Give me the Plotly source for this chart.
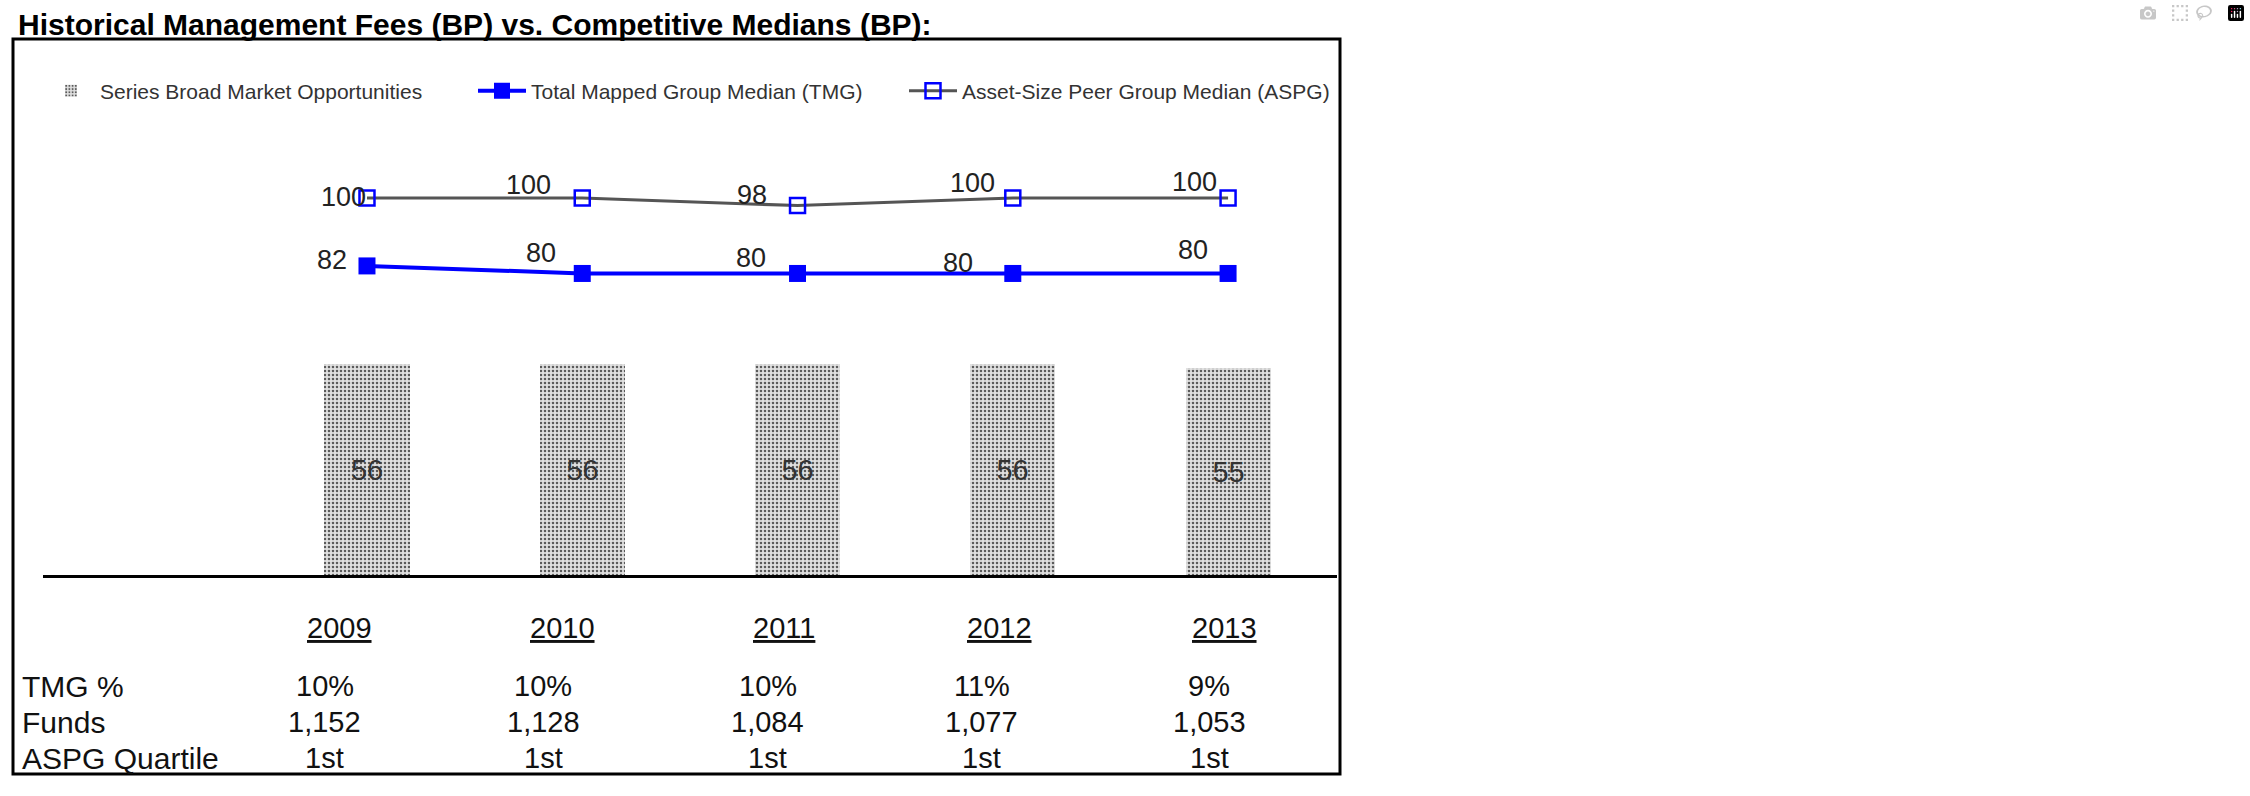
import plotly.graph_objects as go

# ---------------- data ----------------
years = ["2009", "2010", "2011", "2012", "2013"]
broad_market = [56, 56, 56, 56, 55]
tmg_median = [82, 80, 80, 80, 80]
aspg_median = [100, 100, 98, 100, 100]
tmg_pct = ["10%", "10%", "10%", "11%", "9%"]
funds = ["1,152", "1,128", "1,084", "1,077", "1,053"]
aspg_quartile = ["1st", "1st", "1st", "1st", "1st"]
row_labels = ["TMG %", "Funds", "ASPG Quartile"]
series_names = ["Series Broad Market Opportunities",
                "Total Mapped Group Median (TMG)",
                "Asset-Size Peer Group Median (ASPG)"]
title_text = "Historical Management Fees (BP) vs. Competitive Medians (BP):"

# ---------------- styling ----------------
W, H = 2250, 796
FONT = "Liberation Sans, Arial, sans-serif"
BLUE = "#0000ff"

def px_x(p):
    return p / W

def px_y(p):
    return 1 - p / H

# label offsets (pixels) relative to each point
aspg_label_shift = [(-23, 1), (-54, 13), (-46, 11), (-40, 15), (-34, 16)]
tmg_label_shift = [(-35, 6), (-41, 20), (-47, 15), (-55, 10), (-35, 23)]
year_shift = [-27, -20, -14, -13, -4]
col_shift = [-42, -39, -30, -31, -19]
row_y_px = [686, 722, 758]

fig = go.Figure()

fig.add_trace(go.Bar(
    x=years, y=broad_market, name=series_names[0], width=0.395,
    marker=dict(color="#dcdcdc", line=dict(width=0),
                pattern=dict(shape=".", fgcolor="#5a5a5a", bgcolor="#e0e0e0",
                             size=4, solidity=0.32, fillmode="replace")),
    text=[str(v) for v in broad_market], textposition="inside",
    insidetextanchor="middle", textangle=0, constraintext="none",
    textfont=dict(family=FONT, size=29, color="#333333"),
))

fig.add_trace(go.Scatter(
    x=years, y=tmg_median, name=series_names[1], mode="lines+markers",
    line=dict(color=BLUE, width=4),
    marker=dict(symbol="square", size=17, color=BLUE),
))

fig.add_trace(go.Scatter(
    x=years, y=aspg_median, name=series_names[2], mode="lines+markers",
    line=dict(color="#555555", width=3),
    marker=dict(symbol="square-open", size=15, color=BLUE,
                line=dict(width=2.5, color=BLUE)),
))

annotations = []
# point labels (category axis: use category index)
for vals, shifts in ((aspg_median, aspg_label_shift), (tmg_median, tmg_label_shift)):
    for i, (v, (dx, dy)) in enumerate(zip(vals, shifts)):
        annotations.append(dict(
            x=i, y=v, xref="x", yref="y", text=str(v), showarrow=False,
            xshift=dx, yshift=dy, xanchor="center", yanchor="middle",
            font=dict(family=FONT, size=27, color="#222222")))

# title
annotations.append(dict(
    x=px_x(16), y=px_y(24), xref="paper", yref="paper", text=title_text,
    showarrow=False, xanchor="left", yanchor="middle",
    font=dict(family=FONT, size=30, color="#000000", weight="bold")))

# table: year header
for i, (yr, dx) in enumerate(zip(years, year_shift)):
    annotations.append(dict(
        x=i, y=px_y(628), xref="x", yref="paper", text=yr, showarrow=False,
        xshift=dx, xanchor="center", yanchor="middle",
        font=dict(family=FONT, size=29, color="#111111", lineposition="under")))

# table rows
for label, row, ypx in zip(row_labels, [tmg_pct, funds, aspg_quartile], row_y_px):
    annotations.append(dict(
        x=px_x(20), y=px_y(ypx), xref="paper", yref="paper", text=label,
        showarrow=False, xanchor="left", yanchor="middle",
        font=dict(family=FONT, size=30, color="#111111")))
    for i, (val, dx) in enumerate(zip(row, col_shift)):
        annotations.append(dict(
            x=i, y=px_y(ypx), xref="x", yref="paper", text=val,
            showarrow=False, xshift=dx, xanchor="center", yanchor="middle",
            font=dict(family=FONT, size=29, color="#111111")))

shapes = [
    dict(type="rect", xref="paper", yref="paper",
         x0=px_x(13), x1=px_x(1340), y0=px_y(774), y1=px_y(39),
         line=dict(color="#000000", width=3), fillcolor="rgba(0,0,0,0)", layer="above"),
]

fig.update_layout(
    width=W, height=H, autosize=False,
    margin=dict(l=0, r=0, t=0, b=0, pad=0),
    paper_bgcolor="white", plot_bgcolor="white",
    font=dict(family=FONT, color="#222222"),
    showlegend=True,
    legend=dict(orientation="h", x=px_x(42), xanchor="left",
                y=px_y(91), yanchor="middle",
                font=dict(family=FONT, size=21, color="#333333"),
                bgcolor="rgba(0,0,0,0)", itemwidth=48,
                entrywidth=368, entrywidthmode="pixels"),
    xaxis=dict(type="category", domain=[px_x(43), px_x(1337)],
               range=[-1.505, 4.506], showline=True, linecolor="#000000",
               linewidth=3, showticklabels=False, ticks="", showgrid=False,
               zeroline=False, fixedrange=True),
    yaxis=dict(domain=[px_y(575), px_y(85)], range=[0, 130], visible=False,
               showgrid=False, zeroline=False, fixedrange=True),
    annotations=annotations,
    shapes=shapes,
    bargap=0,
)

fig.write_html("out.html", post_script="document.body.style.margin='0';")
